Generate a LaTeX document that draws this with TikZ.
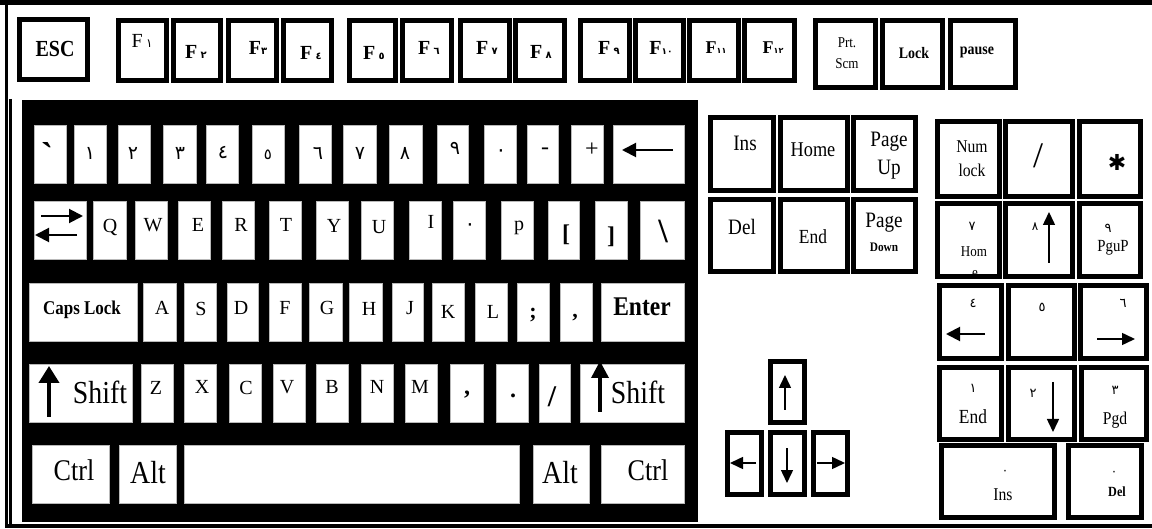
\documentclass[tikz,border=0pt]{standalone}
\usepackage{fontspec}
\setmainfont{Liberation Serif}
\newfontfamily\nar[FakeStretch=0.87]{Liberation Serif}
\newfontfamily\arb[Script=Arabic]{DejaVu Sans}
\newfontfamily\dvs{DejaVu Sans}
\usetikzlibrary{arrows.meta}
\newcommand\FS[1]{\fontsize{#1}{#1}\selectfont}
\newcommand\BKey[5]{\node[bkey, minimum width={#4-#2-5}, minimum height={#5-#3-5}] (#1) at ({(#2+#4)/2},{(#3+#5)/2}) {};}
\newcommand\WKey[5]{\node[wkey, minimum width={#4-#2}, minimum height={#5-#3}] (#1) at ({(#2+#4)/2},{(#3+#5)/2}) {};}
\newcommand\Lab[4]{\node[lbl] (#1) at (#2,#3) {#4};}
\begin{document}
\begin{tikzpicture}[x=1pt,y=-1pt,
  bkey/.style={draw=black, line width=5pt, fill=white, inner sep=0pt, outer sep=0pt},
  wkey/.style={draw=gray!55, line width=0.6pt, fill=white, inner sep=0pt, outer sep=0pt},
  lbl/.style={inner sep=0pt, outer sep=0pt, align=center},
  arr/.style={line width=2pt, -{Triangle[length=14pt,width=14pt]}},
  thinarr/.style={line width=1.5pt, -{Triangle[length=13pt,width=12pt]}},
  fatarr/.style={line width=4pt, -{Triangle[length=17pt,width=20pt]}}]
\useasboundingbox (0,0) rectangle (1152,529);
% frame
\draw[line width=5pt] (0,2.5) -- (1152,2.5);
\draw[line width=3pt] (6.5,0) -- (6.5,528);
\draw[line width=2.5pt] (10.5,99) -- (10.5,527);
\draw[line width=3.5pt] (5,526.2) -- (1152,526.2);
% board
\node[fill=black, minimum width=676, minimum height=422, inner sep=0pt, outer sep=0pt] (board) at (360,311) {};
% top row
\BKey{esc}{17}{17}{90}{82}
\BKey{f1}{116}{18}{169}{83}
\BKey{f2}{171}{18}{223}{83}
\BKey{f3}{226}{18}{279}{83}
\BKey{f4}{281}{18}{334}{83}
\BKey{f5}{347}{18}{398}{83}
\BKey{f6}{400}{18}{454}{83}
\BKey{f7}{458}{18}{512}{83}
\BKey{f8}{513}{18}{567}{83}
\BKey{f9}{578}{18}{632}{83}
\BKey{f10}{633}{18}{686}{83}
\BKey{f11}{687}{18}{741}{83}
\BKey{f12}{742}{18}{797}{83}
\BKey{prt}{813}{18}{878}{90}
\BKey{lock}{880}{18}{945}{90}
\BKey{pause}{948}{18}{1018}{90}
\Lab{tesc}{55}{49}{\nar\bfseries\FS{23}ESC}
\Lab{tf1}{142}{41}{\FS{20}F\,{\arb\FS{12}١}}
\Lab{tf2}{196}{52}{\bfseries\FS{20}F\,{\arb\FS{10}٢}}
\Lab{tf3}{258}{48}{\bfseries\FS{20}F{\arb\FS{10}٣}}
\Lab{tf4}{311}{53}{\bfseries\FS{20}F\,{\arb\FS{10}٤}}
\Lab{tf5}{374}{53}{\bfseries\FS{20}F\,{\arb\FS{10}٥}}
\Lab{tf6}{429}{48}{\bfseries\FS{20}F\,{\arb\FS{10}٦}}
\Lab{tf7}{487}{48}{\bfseries\FS{20}F\,{\arb\FS{10}٧}}
\Lab{tf8}{541}{52}{\bfseries\FS{20}F\,{\arb\FS{10}٨}}
\Lab{tf9}{609}{48}{\bfseries\FS{20}F\,{\arb\FS{10}٩}}
\Lab{tf10}{661}{48}{\bfseries\FS{20}F{\arb\FS{9}١٠}}
\Lab{tf11}{716}{48}{\bfseries\FS{18}F{\arb\FS{8}١١}}
\Lab{tf12}{773}{48}{\bfseries\FS{18}F{\arb\FS{8}١٢}}
\node[lbl, font=\nar\fontsize{15}{21}\selectfont] (tprt) at (847,53) {Prt.\\Scm};
\Lab{tlock}{914}{53}{\nar\bfseries\FS{16}Lock}
\Lab{tpause}{977}{52}{\nar\bfseries\FS{16}pause}
% main board row 1
\WKey{k0}{34}{125}{66}{183}
\WKey{k1}{74}{125}{106}{183}
\WKey{k2}{118}{125}{150}{183}
\WKey{k3}{163}{125}{196}{183}
\WKey{k4}{206}{125}{238}{183}
\WKey{k5}{252}{125}{284}{183}
\WKey{k6}{299}{125}{331}{183}
\WKey{k7}{343}{125}{376}{183}
\WKey{k8}{389}{125}{422}{183}
\WKey{k9}{437}{125}{468}{183}
\WKey{kz}{484}{125}{516}{183}
\WKey{kmin}{527}{125}{558}{183}
\WKey{kplus}{571}{125}{603}{183}
\WKey{kbs}{613}{125}{684}{183}
% row 2
\WKey{ktab}{34}{201}{86}{259}
\WKey{kq}{93}{201}{126}{259}
\WKey{kw}{135}{201}{167}{259}
\WKey{ke}{178}{201}{210}{259}
\WKey{kr}{222}{201}{254}{259}
\WKey{kt}{269}{201}{301}{259}
\WKey{ky}{316}{201}{348}{259}
\WKey{ku}{361}{201}{393}{259}
\WKey{ki}{409}{201}{441}{259}
\WKey{ko}{453}{201}{485}{259}
\WKey{kp}{501}{201}{533}{259}
\WKey{klb}{548}{201}{579}{259}
\WKey{krb}{595}{201}{627}{259}
\WKey{kbsl}{640}{201}{684}{259}
% row 3
\WKey{kcaps}{29}{283}{137}{341}
\WKey{ka}{143}{283}{176}{341}
\WKey{ks}{184}{283}{216}{341}
\WKey{kd}{227}{283}{258}{341}
\WKey{kf}{269}{283}{301}{341}
\WKey{kg}{309}{283}{342}{341}
\WKey{kh}{349}{283}{382}{341}
\WKey{kj}{392}{283}{423}{341}
\WKey{kk}{432}{283}{464}{341}
\WKey{kl}{475}{283}{507}{341}
\WKey{ksc}{517}{283}{549}{341}
\WKey{kqu}{560}{283}{592}{341}
\WKey{kent}{601}{283}{684}{341}
% row 4
\WKey{klsh}{29}{364}{132}{422}
\WKey{kzz}{141}{364}{173}{422}
\WKey{kx}{184}{364}{216}{422}
\WKey{kc}{229}{364}{261}{422}
\WKey{kv}{273}{364}{305}{422}
\WKey{kb}{316}{364}{348}{422}
\WKey{kn}{361}{364}{393}{422}
\WKey{km}{405}{364}{437}{422}
\WKey{kcm}{450}{364}{483}{422}
\WKey{kpd}{496}{364}{528}{422}
\WKey{ksl}{539}{364}{570}{422}
\WKey{krsh}{580}{364}{684}{422}
% row 5
\WKey{klctl}{32}{445}{109}{503}
\WKey{klalt}{119}{445}{176}{503}
\WKey{kspc}{184}{445}{519}{503}
\WKey{kralt}{533}{445}{589}{503}
\WKey{krctl}{601}{445}{684}{503}
% row 1 labels
\Lab{t0}{47}{155}{\bfseries\FS{36}ˋ}
\Lab{t1}{90}{153}{\arb\FS{19}١}
\Lab{t2}{133}{153}{\arb\FS{19}٢}
\Lab{t3}{180}{153}{\arb\FS{19}٣}
\Lab{t4}{223}{153}{\arb\FS{19}٤}
\Lab{t5}{268}{155}{\arb\FS{15}٥}
\Lab{t6}{318}{153}{\arb\FS{19}٦}
\Lab{t7}{360}{153}{\arb\FS{19}٧}
\Lab{t8}{405}{153}{\arb\FS{19}٨}
\Lab{t9}{455}{148}{\arb\FS{19}٩}
\Lab{t9b}{455}{188}{\arb\FS{14}ه}
\Lab{tz}{501}{153}{\arb\FS{20}٠}
\Lab{tmin}{545}{151}{\FS{24}-}
\Lab{tplus}{592}{150}{\FS{24}+}
\coordinate (bsA) at (673,150);
\coordinate (bsB) at (622,150);
\draw[arr] (bsA) -- (bsB);
% row 2 labels
\coordinate (tabA) at (41,216);
\coordinate (tabB) at (83,216);
\coordinate (tabC) at (77,235);
\coordinate (tabD) at (35,235);
\draw[arr] (tabA) -- (tabB);
\draw[arr] (tabC) -- (tabD);
\Lab{tq}{110}{228}{\FS{20}Q}
\Lab{tw}{153}{225}{\FS{20}W}
\Lab{te}{198}{225}{\FS{20}E}
\Lab{tr}{241}{225}{\FS{20}R}
\Lab{tt}{286}{225}{\FS{20}T}
\Lab{ty}{334}{226}{\FS{20}Y}
\Lab{tu}{379}{227}{\FS{20}U}
\Lab{ti}{431}{222}{\FS{20}I}
\Lab{to}{470}{227}{\arb\FS{20}٠}
\Lab{tp}{519}{228}{\FS{20}p}
\Lab{tlb}{566}{235}{\bfseries\FS{24}[}
\Lab{trb}{611}{237}{\bfseries\FS{24}]}
\Lab{tbsl}{663}{231}{\bfseries\FS{34}\textbackslash}
% row 3 labels
\Lab{tcaps}{82}{310}{\nar\bfseries\FS{19.5}Caps Lock}
\Lab{ta}{162}{308}{\FS{20}A}
\Lab{ts}{201}{309}{\FS{20}S}
\Lab{td}{241}{308}{\FS{20}D}
\Lab{tf}{285}{308}{\FS{20}F}
\Lab{tg}{327}{308}{\FS{20}G}
\Lab{th}{369}{309}{\FS{20}H}
\Lab{tj}{410}{308}{\FS{20}J}
\Lab{tk}{448}{312}{\FS{20}K}
\Lab{tl}{493}{312}{\FS{20}L}
\Lab{tsc}{533}{315}{\bfseries\FS{22};}
\Lab{tqu}{575}{318}{\bfseries\FS{22},}
\Lab{tent}{642}{307}{\nar\bfseries\FS{27}Enter}
% row 4 labels
\coordinate (lshA) at (49,417);
\coordinate (lshB) at (49,366);
\draw[fatarr] (lshA) -- (lshB);
\Lab{tlsh}{100}{392}{\nar\FS{32}Shift}
\Lab{tzz}{156}{388}{\FS{20}Z}
\Lab{tx}{202}{387}{\FS{20}X}
\Lab{tc}{246}{388}{\FS{20}C}
\Lab{tv}{287}{387}{\FS{20}V}
\Lab{tb}{332}{387}{\FS{20}B}
\Lab{tn}{377}{387}{\FS{20}N}
\Lab{tm}{420}{387}{\FS{20}M}
\Lab{tcm}{467}{395}{\bfseries\FS{24},}
\Lab{tpd}{513}{396}{\bfseries\FS{24}.}
\Lab{tsl}{552}{397}{\bfseries\FS{30}/}
\coordinate (rshA) at (600,412);
\coordinate (rshB) at (600,361);
\draw[line width=3.5pt, -{Triangle[length=17pt,width=17pt]}] (rshA) -- (rshB);
\Lab{trsh}{638}{392}{\nar\FS{32}Shift}
% row 5 labels
\Lab{tlctl}{74}{470}{\nar\FS{30}Ctrl}
\Lab{tlalt}{148}{473}{\nar\FS{32}Alt}
\Lab{tralt}{560}{473}{\nar\FS{32}Alt}
\Lab{trctl}{648}{470}{\nar\FS{30}Ctrl}
% navigation block
\BKey{ins}{708}{115}{776}{193}
\BKey{home}{778}{115}{850}{193}
\BKey{pgup}{851}{115}{918}{193}
\BKey{del}{708}{197}{776}{274}
\BKey{end}{778}{197}{850}{274}
\BKey{pgdn}{851}{197}{918}{274}
\Lab{tins}{745}{143}{\nar\FS{22}Ins}
\Lab{thome}{813}{150}{\nar\FS{21}Home}
\node[lbl, font=\nar\fontsize{22}{28}\selectfont] (tpgup) at (889,156) {Page\\Up};
\Lab{tdel}{742}{227}{\nar\FS{22}Del}
\Lab{tend}{813}{237}{\nar\FS{20}End}
\Lab{tpgdnA}{884}{223}{\nar\FS{22}Page}
\Lab{tpgdnB}{884}{247}{\nar\bfseries\FS{13}Down}
% arrow keys
\BKey{aup}{768}{359}{807}{425}
\BKey{aleft}{725}{430}{764}{497}
\BKey{adown}{768}{430}{807}{497}
\BKey{aright}{811}{430}{850}{497}
\coordinate (upA) at (785,410);
\coordinate (upB) at (785,375);
\coordinate (ltA) at (756,463);
\coordinate (ltB) at (730,463);
\coordinate (dnA) at (787,448);
\coordinate (dnB) at (787,483);
\coordinate (rtA) at (817,463);
\coordinate (rtB) at (845,463);
\draw[thinarr] (upA) -- (upB);
\draw[thinarr] (ltA) -- (ltB);
\draw[thinarr] (dnA) -- (dnB);
\draw[thinarr] (rtA) -- (rtB);
% numeric keypad
\BKey{num}{935}{119}{1002}{199}
\BKey{nsl}{1003}{119}{1075}{199}
\BKey{nast}{1077}{119}{1143}{199}
\BKey{n7}{935}{201}{1002}{279}
\BKey{n8}{1003}{201}{1075}{279}
\BKey{n9}{1077}{201}{1143}{279}
\BKey{n4}{937}{283}{1004}{361}
\BKey{n5}{1006}{283}{1077}{361}
\BKey{n6}{1078}{283}{1149}{361}
\BKey{n1}{937}{365}{1004}{442}
\BKey{n2}{1006}{365}{1077}{442}
\BKey{n3}{1079}{365}{1149}{442}
\BKey{n0}{939}{443}{1057}{520}
\BKey{ndel}{1066}{443}{1144}{520}
\node[lbl, font=\nar\fontsize{18}{24}\selectfont] (tnum) at (972,159) {Num\\lock};
\Lab{tnsl}{1038}{156}{\FS{36}/}
\Lab{tnast}{1117}{162}{\dvs\FS{22}✱}
\Lab{tn7}{972}{226}{\arb\FS{13}٧}
\Lab{tn7b}{974}{252}{\nar\FS{15}Hom}
\Lab{tn7c}{975}{274}{\nar\FS{15}e}
\draw[line width=5pt] (n7.south west) -- (n7.south east);
\Lab{tn8}{1035}{227}{\arb\FS{12}٨}
\coordinate (n8A) at (1049,263);
\coordinate (n8B) at (1049,212);
\draw[thinarr] (n8A) -- (n8B);
\Lab{tn9}{1108}{228}{\arb\FS{13}٩}
\Lab{tn9b}{1113}{248}{\nar\FS{17}PguP}
\Lab{tn4}{973}{303}{\arb\FS{13}٤}
\coordinate (n4A) at (985,334);
\coordinate (n4B) at (946,334);
\draw[arr] (n4A) -- (n4B);
\Lab{tn5}{1042}{307}{\arb\FS{13}٥}
\Lab{tn6}{1123}{303}{\arb\FS{13}٦}
\coordinate (n6A) at (1097,339);
\coordinate (n6B) at (1135,339);
\draw[thinarr] (n6A) -- (n6B);
\Lab{tn1}{973}{388}{\arb\FS{13}١}
\Lab{tn1b}{973}{417}{\nar\FS{20}End}
\Lab{tn2}{1033}{393}{\arb\FS{13}٢}
\coordinate (n2A) at (1053,382);
\coordinate (n2B) at (1053,432);
\draw[thinarr] (n2A) -- (n2B);
\Lab{tn3}{1115}{390}{\arb\FS{13}٣}
\Lab{tn3b}{1115}{420}{\nar\FS{18}Pgd}
\Lab{tn0}{1005}{472}{\arb\FS{12}٠}
\Lab{tn0b}{1003}{495}{\nar\FS{18}Ins}
\Lab{tnd}{1114}{473}{\arb\FS{12}٠}
\Lab{tndb}{1117}{492}{\nar\bfseries\FS{14}Del}
\end{tikzpicture}
\end{document}
